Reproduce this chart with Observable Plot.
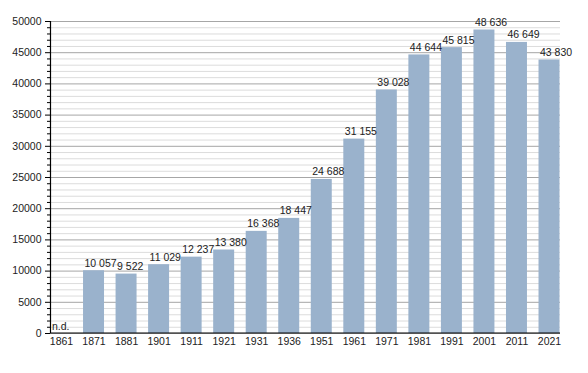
<!DOCTYPE html>
<html>
<head>
<meta charset="utf-8">
<script src="https://cdn.jsdelivr.net/npm/d3@7"></script>
<script src="https://cdn.jsdelivr.net/npm/@observablehq/plot@0.6"></script>
<style>
  html, body { margin: 0; padding: 0; background: #fff; }
</style>
</head>
<body>
<div id="chart"></div>
<script>
const years = ["1861","1871","1881","1901","1911","1921","1931","1936","1951","1961","1971","1981","1991","2001","2011","2021"];
const population = [null, 10057, 9522, 11029, 12237, 13380, 16368, 18447, 24688, 31155, 39028, 44644, 45815, 48636, 46649, 43830];
const majorTicks = [0, 5000, 10000, 15000, 20000, 25000, 30000, 35000, 40000, 45000, 50000];
const minorTicks = d3.range(0, 50001, 1000).filter(v => v % 5000 !== 0);
const missingLabel = "n.d.";

const fmt = d3.formatLocale({thousands: " ", grouping: [3], decimal: ","}).format(",d");
const data = years.map((y, i) => ({year: y, value: population[i]}));

const axisLine = (index, scales, values, dimensions) => {
  const g = d3.create("svg:g");
  const x0 = dimensions.marginLeft;
  const x1 = dimensions.width - dimensions.marginRight;
  g.append("line").attr("x1", x0 + 0.5).attr("x2", x0 + 0.5)
    .attr("y1", scales.y(50000)).attr("y2", scales.y(0))
    .attr("stroke", "#000").attr("stroke-width", 1.2);
  g.append("line").attr("x1", x0).attr("x2", x1)
    .attr("y1", scales.y(0)).attr("y2", scales.y(0))
    .attr("stroke", "#000").attr("stroke-width", 1.2);
  return g.node();
};

const chart = Plot.plot({
  width: 588,
  height: 373,
  marginLeft: 50,
  marginRight: 28,
  marginTop: 21,
  marginBottom: 40,
  style: {fontFamily: "'Liberation Sans', Arial, sans-serif", fontSize: "10.5px", background: "#fff", color: "#222"},
  x: {type: "band", domain: years, paddingInner: 0.355, paddingOuter: 0, round: false, range: [50.5, 559.5], label: null},
  y: {domain: [0, 50000], label: null},
  marks: [
    Plot.gridY(minorTicks, {stroke: "#dcdcdc", strokeOpacity: 1}),
    Plot.gridY(majorTicks, {stroke: "#a6a6a6", strokeOpacity: 1}),
    Plot.barY(data.filter(d => d.value != null), {x: "year", y: "value", fill: "#9ab2cc"}),
    Plot.text(data, {
      x: "year",
      y: d => d.value ?? 0,
      text: d => d.value == null ? missingLabel : fmt(d.value),
      textAnchor: "start",
      lineAnchor: "bottom",
      dx: -9.5,
      dy: -4,
      fill: "#222",
      fontSize: 10.5
    }),
    Plot.axisY(minorTicks, {tickSize: 3, tickFormat: () => "", stroke: "#000", label: null}),
    Plot.axisY(majorTicks, {tickSize: 5, tickPadding: 4, tickFormat: d => String(d), stroke: "#000", fill: "#222", label: null}),
    Plot.axisX({tickSize: 0, tickPadding: 4, fill: "#222", label: null}),
    axisLine
  ]
});
document.getElementById("chart").append(chart);
</script>
</body>
</html>
